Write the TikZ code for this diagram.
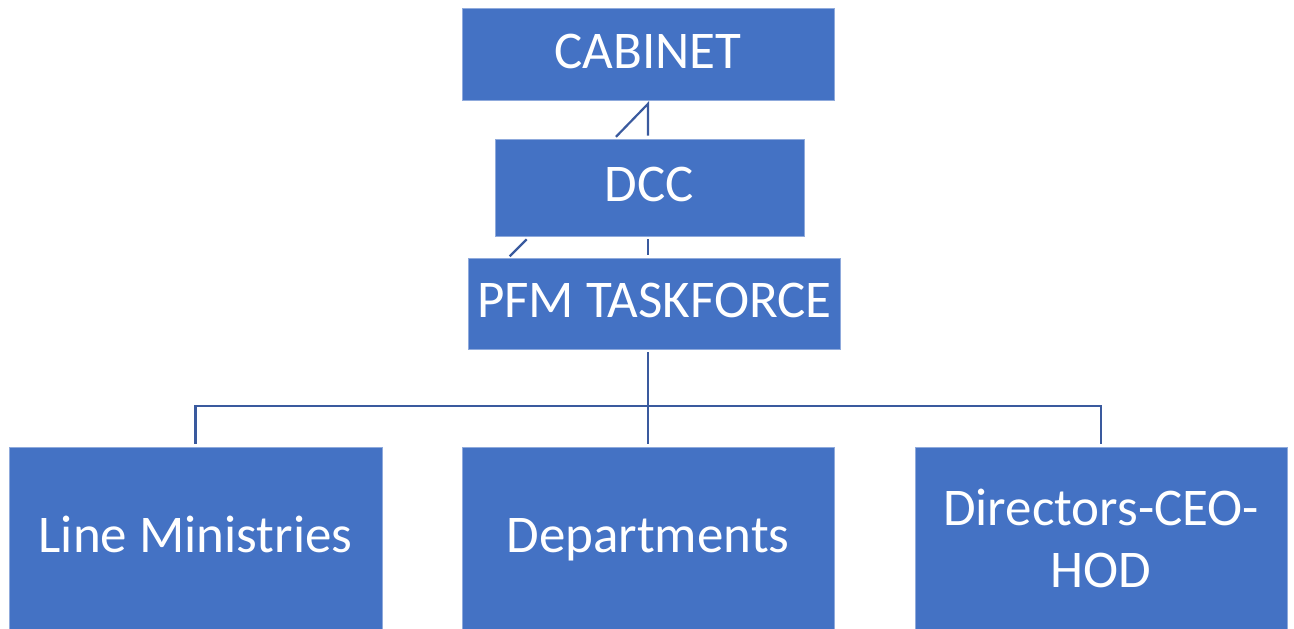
\documentclass[tikz,border=0pt]{standalone}
\usepackage{fontspec}
\setmainfont{Carlito}
\usetikzlibrary{calc}
\definecolor{boxblue}{RGB}{68,114,196}
\definecolor{linkblue}{RGB}{58,90,158}

\begin{document}
\begin{tikzpicture}[x=1pt, y=-1pt]
\tikzstyle{box}=[rectangle, fill=boxblue, draw=boxblue!60!white, line width=0.6pt,
                 text=white, inner sep=0pt, align=center, font=\fontsize{53}{62}\selectfont]
\tikzstyle{oneline}=[text height=34pt, text depth=6pt]
\tikzstyle{link}=[draw=linkblue, line width=2.2pt]
\useasboundingbox (0,0) rectangle (1294,629);
% top chain
\node[box, oneline, minimum width=372, minimum height=92] (cab) at (648,54) {CABINET};
\node[box, oneline, minimum width=309, minimum height=97] (dcc) at (649.5,187.5) {DCC};
\node[box, oneline, minimum width=372, minimum height=91] (pfm) at (654.5,303.5) {PFM TASKFORCE};
% bottom row
\node[box, oneline, minimum width=373, minimum height=182] (lm) at (195.5,538) {Line Ministries};
\node[box, oneline, minimum width=372, minimum height=182] (dep) at (648,538) {Departments};
\node[box, minimum width=372, minimum height=182] (dir) at (1101,538) {Directors-CEO-\\HOD};
%links
\coordinate (t1) at ($(cab.south)+(0,3.5)$);
\draw[link] ($(t1)+(-32,33)$) -- (t1) -- ($(t1 |- dcc.north)+(0,-3)$);
\draw[link] ($(dcc.south west)+(32,3)$) -- ($(dcc.south west)+(15,20)$);
\draw[link, shorten <=3pt, shorten >=3pt] (t1 |- dcc.south) -- (t1 |- pfm.north);
\draw[link, shorten <=3pt, shorten >=3pt] (dep.north |- pfm.south) -- (dep.north);
\draw[link, shorten <=3pt, shorten >=3pt] (lm.north) -- ++(0,-41) -| (dir.north);
\end{tikzpicture}
\end{document}
